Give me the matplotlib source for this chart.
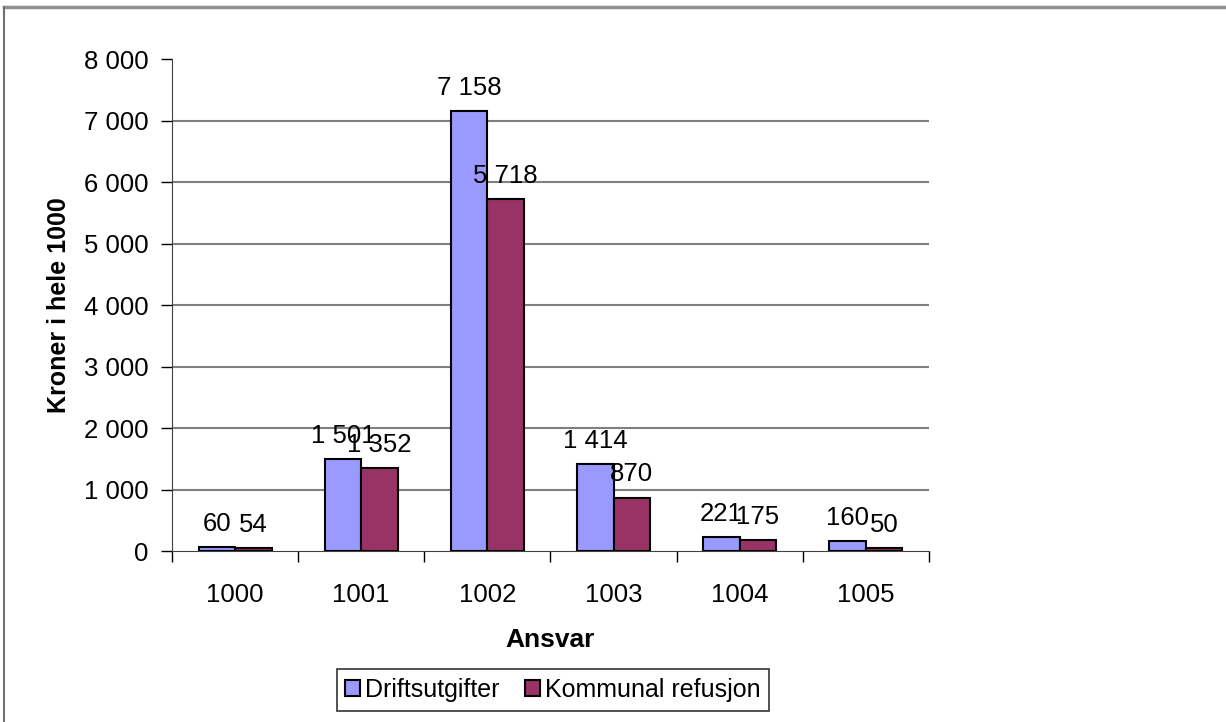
import numpy as np
import matplotlib
matplotlib.use("Agg")
import matplotlib.pyplot as plt
from matplotlib.lines import Line2D

plt.rcParams['font.family'] = ['Liberation Sans', 'DejaVu Sans']

# data
ansvar = ['1000', '1001', '1002', '1003', '1004', '1005']
driftsutgifter = [60, 1501, 7158, 1414, 221, 160]
kommunal_refusjon = [54, 1352, 5718, 870, 175, 50]
yticks = [0, 1000, 2000, 3000, 4000, 5000, 6000, 7000, 8000]


def fmt(v):
    return '{:,}'.format(int(v)).replace(',', ' ')


fs = 18.5
fig = plt.figure(figsize=(12.26, 7.22), dpi=100)
ax = fig.add_axes([0.1403, 0.2368, 0.6174, 0.6814])

x = np.arange(len(ansvar))
w = 0.29
b1 = ax.bar(x - w / 2, driftsutgifter, w, color='#9999FF', edgecolor='black',
            linewidth=1.5, label='Driftsutgifter', zorder=3)
b2 = ax.bar(x + w / 2, kommunal_refusjon, w, color='#993366', edgecolor='black',
            linewidth=1.5, label='Kommunal refusjon', zorder=3)

ax.bar_label(b1, labels=[fmt(v) for v in driftsutgifter], padding=8, fontsize=fs, zorder=4)
ax.bar_label(b2, labels=[fmt(v) for v in kommunal_refusjon], padding=8, fontsize=fs, zorder=4)

ax.set_xlim(-0.5, len(ansvar) - 0.5)
ax.set_ylim(0, 8000)
ax.set_yticks(yticks)
ax.set_yticklabels([fmt(v) for v in yticks], fontsize=fs)
for v in yticks[1:-1]:
    ax.axhline(v, color='#808080', lw=1.5, zorder=1)

# category boundaries as major ticks, names on minor ticks
ax.set_xticks(np.arange(len(ansvar) + 1) - 0.5)
ax.set_xticklabels([])
ax.set_xticks(x, minor=True)
ax.set_xticklabels(ansvar, minor=True, fontsize=fs)
ax.tick_params(axis='x', which='major', length=8, width=1, direction='out')
ax.tick_params(axis='x', which='minor', length=0, pad=23)
ax.tick_params(axis='y', length=8, width=1, direction='out', pad=9)

for s in ['top', 'right']:
    ax.spines[s].set_visible(False)
ax.spines['left'].set_color('#404040')
ax.spines['bottom'].set_color('#404040')

ax.set_ylabel('Kroner i hele 1000', fontsize=18, fontweight='bold', labelpad=9)
ax.set_xlabel('Ansvar', fontsize=19, fontweight='bold', labelpad=15)

leg = fig.legend(handles=[b1, b2], loc='center', bbox_to_anchor=(0.451, 0.0443),
                 ncol=2, fontsize=18, frameon=True, fancybox=False,
                 handlelength=0.6, handleheight=0.6, handletextpad=0.2,
                 columnspacing=1.0, borderpad=0.35, borderaxespad=0)
leg.get_frame().set_edgecolor('black')
leg.get_frame().set_linewidth(1.2)

# outer frame (top and left edge of the chart area)
fig.add_artist(Line2D([0.003, 1.0], [0.990, 0.990], color='#909090', lw=2.5))
fig.add_artist(Line2D([0.003, 0.003], [0.0, 0.990], color='#707070', lw=1.5))

fig.savefig('out.png', dpi=100)
